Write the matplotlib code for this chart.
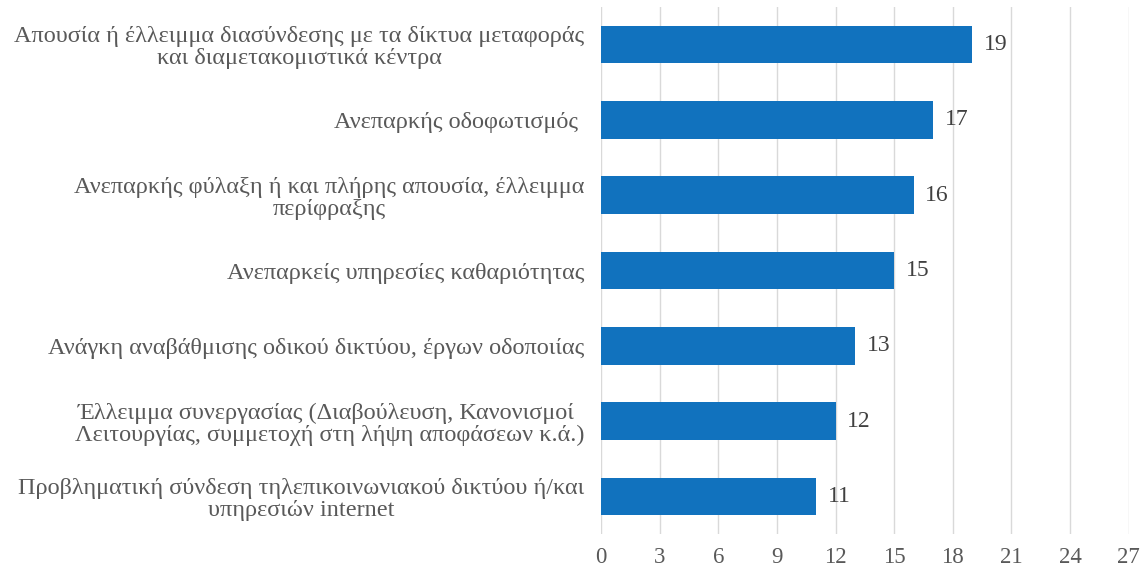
import matplotlib.pyplot as plt

plt.rcParams['font.family'] = ['Liberation Serif', 'DejaVu Serif']

labels = [
    'Απουσία ή έλλειμμα διασύνδεσης με τα δίκτυα μεταφοράς\nκαι διαμετακομιστικά κέντρα',
    'Ανεπαρκής οδοφωτισμός ',
    'Ανεπαρκής φύλαξη ή και πλήρης απουσία, έλλειμμα\nπερίφραξης',
    'Ανεπαρκείς υπηρεσίες καθαριότητας',
    'Ανάγκη αναβάθμισης οδικού δικτύου, έργων οδοποιίας',
    'Έλλειμμα συνεργασίας (Διαβούλευση, Κανονισμοί \nΛειτουργίας, συμμετοχή στη λήψη αποφάσεων κ.ά.)',
    'Προβληματική σύνδεση τηλεπικοινωνιακού δικτύου ή/και\nυπηρεσιών internet',
]
values = [19, 17, 16, 15, 13, 12, 11]
xticks = [0, 3, 6, 9, 12, 15, 18, 21, 24, 27]

fig = plt.figure(figsize=(11.41, 5.72), dpi=100)
ax = fig.add_axes([0.5267, 0.066, 0.4625, 0.922])

pos = list(range(len(values)))[::-1]
ax.barh(pos, values, height=0.5, color='#1172be', zorder=3)

for y, v in zip(pos, values):
    ax.text(v + 0.6, y, str(v), va='center', ha='left',
            fontsize=17, color='#404040')

ax.set_xlim(0, 27)
ax.set_ylim(-0.5, 6.5)
ax.set_xticks(xticks)
ax.set_yticks(pos)
ax.set_yticklabels(labels, multialignment='center', linespacing=1.05)
ax.tick_params(axis='y', length=0, pad=12, labelsize=17.5, labelcolor='#595959')
ax.tick_params(axis='x', length=0, pad=9, labelsize=16.5, labelcolor='#595959')

ax.grid(axis='x', color='#d9d9d9', linewidth=1, zorder=0)
for s in ax.spines.values():
    s.set_visible(False)

fig.savefig('out.png', dpi=100)
